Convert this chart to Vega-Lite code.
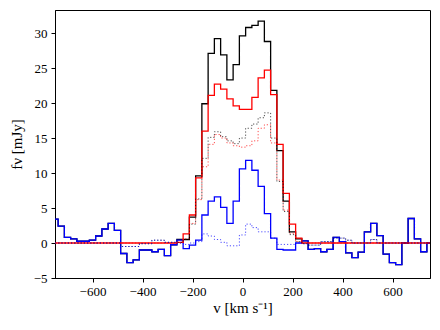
{
  "$schema": "https://vega.github.io/schema/vega-lite/v6.json",
  "width": 375,
  "height": 268,
  "autosize": {"type": "none"},
  "padding": {"left": 55, "top": 10, "right": 10, "bottom": 52},
  "background": "white",
  "config": {
    "view": {"stroke": "black", "strokeWidth": 1},
    "font": "Liberation Serif",
    "axis": {
      "grid": false,
      "domainColor": "black",
      "domainWidth": 1,
      "tickColor": "black",
      "tickSize": 4,
      "tickWidth": 1,
      "labelOverlap": false,
      "labelFont": "Liberation Serif",
      "labelFontSize": 13,
      "labelColor": "black",
      "titleFont": "Liberation Serif",
      "titleFontSize": 15,
      "titleFontWeight": "normal",
      "titleColor": "black"
    }
  },
  "data": {
    "values": [
      {"v": -750, "k": 3.4, "r": 0, "b": 3.4, "kd": 0, "rd": 0, "bd": 0},
      {"v": -725, "k": 2.4, "r": 0, "b": 2.4, "kd": 0, "rd": 0, "bd": 0},
      {"v": -700, "k": 0.8, "r": 0, "b": 0.8, "kd": 0, "rd": 0, "bd": 0},
      {"v": -675, "k": 0.6, "r": 0, "b": 0.6, "kd": 0, "rd": 0, "bd": 0},
      {"v": -650, "k": 0.25, "r": 0, "b": 0.25, "kd": 0, "rd": 0, "bd": 0},
      {"v": -625, "k": 0.25, "r": 0, "b": 0.25, "kd": 0, "rd": 0, "bd": 0},
      {"v": -600, "k": 0.4, "r": 0, "b": 0.4, "kd": 0, "rd": 0, "bd": 0},
      {"v": -575, "k": 1.0, "r": 0, "b": 1.0, "kd": 0, "rd": 0, "bd": 0},
      {"v": -550, "k": 2.0, "r": 0, "b": 2.0, "kd": 0, "rd": 0, "bd": 0},
      {"v": -525, "k": 2.8, "r": 0, "b": 2.8, "kd": 0, "rd": 0, "bd": 0},
      {"v": -500, "k": 1.8, "r": 0, "b": 1.8, "kd": 0, "rd": 0, "bd": 0},
      {"v": -475, "k": -1.5, "r": 0, "b": -1.5, "kd": -0.5, "rd": 0, "bd": -0.5},
      {"v": -450, "k": -2.8, "r": 0, "b": -2.8, "kd": -0.5, "rd": 0, "bd": -0.5},
      {"v": -425, "k": -2.4, "r": 0, "b": -2.4, "kd": -0.5, "rd": 0, "bd": -0.5},
      {"v": -400, "k": -1.0, "r": 0, "b": -1.0, "kd": -0.1, "rd": 0, "bd": -0.1},
      {"v": -375, "k": -1.0, "r": 0, "b": -1.0, "kd": -0.1, "rd": 0, "bd": -0.1},
      {"v": -350, "k": -1.25, "r": 0, "b": -1.25, "kd": 0.4, "rd": 0, "bd": 0.4},
      {"v": -325, "k": -0.9, "r": 0, "b": -0.9, "kd": 0.4, "rd": 0, "bd": 0.4},
      {"v": -300, "k": -1.8, "r": 0, "b": -1.8, "kd": 0.1, "rd": 0, "bd": 0.1},
      {"v": -275, "k": -0.25, "r": 0, "b": -0.25, "kd": 0.1, "rd": 0, "bd": 0.1},
      {"v": -250, "k": 0.5, "r": 0.1, "b": 0.4, "kd": 0.1, "rd": 0, "bd": 0},
      {"v": -225, "k": 0.5, "r": 1.3, "b": -0.8, "kd": 0.5, "rd": 0.6, "bd": -0.2},
      {"v": -200, "k": 3.7, "r": 4.0, "b": -0.3, "kd": 2.7, "rd": 2.8, "bd": 0},
      {"v": -175, "k": 9.6, "r": 9.3, "b": 0.4, "kd": 6.3, "rd": 6.2, "bd": 0.2},
      {"v": -150, "k": 19.9, "r": 16.0, "b": 4.0, "kd": 12.1, "rd": 10.9, "bd": 1.3},
      {"v": -125, "k": 27.1, "r": 21.1, "b": 6.0, "kd": 15.1, "rd": 14.1, "bd": 1.0},
      {"v": -100, "k": 29.2, "r": 22.7, "b": 6.6, "kd": 15.9, "rd": 15.5, "bd": 0.5},
      {"v": -75, "k": 26.9, "r": 22.0, "b": 5.1, "kd": 15.2, "rd": 15.0, "bd": 0.1},
      {"v": -50, "k": 23.3, "r": 20.6, "b": 2.8, "kd": 14.6, "rd": 14.3, "bd": -0.4},
      {"v": -25, "k": 25.5, "r": 19.6, "b": 6.0, "kd": 14.2, "rd": 13.9, "bd": -0.4},
      {"v": 0, "k": 29.6, "r": 19.1, "b": 10.6, "kd": 15.0, "rd": 13.7, "bd": 1.15},
      {"v": 25, "k": 30.8, "r": 19.1, "b": 11.8, "kd": 16.4, "rd": 13.9, "bd": 2.7},
      {"v": 50, "k": 31.1, "r": 20.8, "b": 10.4, "kd": 17.0, "rd": 14.6, "bd": 2.2},
      {"v": 75, "k": 31.7, "r": 23.6, "b": 8.1, "kd": 17.9, "rd": 16.4, "bd": 1.6},
      {"v": 100, "k": 28.8, "r": 24.7, "b": 4.2, "kd": 18.6, "rd": 16.9, "bd": 1.6},
      {"v": 125, "k": 21.8, "r": 21.2, "b": 0.7, "kd": 15.0, "rd": 14.3, "bd": 0.7},
      {"v": 150, "k": 13.2, "r": 14.1, "b": -0.9, "kd": 8.8, "rd": 9.0, "bd": -0.2},
      {"v": 175, "k": 6.0, "r": 7.1, "b": -1.0, "kd": 4.5, "rd": 4.7, "bd": -0.2},
      {"v": 200, "k": 1.6, "r": 2.7, "b": -1.0, "kd": 1.2, "rd": 1.4, "bd": -0.2},
      {"v": 225, "k": 0.6, "r": 0.7, "b": 0.0, "kd": 0.2, "rd": 0.2, "bd": 0},
      {"v": 250, "k": 0.3, "r": 0, "b": 0.3, "kd": -0.1, "rd": 0, "bd": -0.1},
      {"v": 275, "k": -0.9, "r": 0, "b": -0.9, "kd": -0.3, "rd": 0, "bd": -0.3},
      {"v": 300, "k": -0.8, "r": 0, "b": -0.8, "kd": -0.3, "rd": 0, "bd": -0.3},
      {"v": 325, "k": -1.25, "r": 0, "b": -1.25, "kd": 0.2, "rd": 0, "bd": 0.2},
      {"v": 350, "k": -0.9, "r": 0, "b": -0.9, "kd": 0.2, "rd": 0, "bd": 0.2},
      {"v": 375, "k": 0.8, "r": 0, "b": 0.8, "kd": 0.7, "rd": 0, "bd": 0.7},
      {"v": 400, "k": 0.2, "r": 0, "b": 0.2, "kd": 0.7, "rd": 0, "bd": 0.7},
      {"v": 425, "k": -1.4, "r": 0, "b": -1.4, "kd": 0.4, "rd": 0, "bd": 0.4},
      {"v": 450, "k": -2.1, "r": 0, "b": -2.1, "kd": 0, "rd": 0, "bd": 0},
      {"v": 475, "k": -1.3, "r": 0, "b": -1.3, "kd": 0, "rd": 0, "bd": 0},
      {"v": 500, "k": 1.6, "r": 0, "b": 1.6, "kd": 0, "rd": 0, "bd": 0},
      {"v": 525, "k": 2.8, "r": 0, "b": 2.8, "kd": 0.5, "rd": 0, "bd": 0.5},
      {"v": 550, "k": 1.05, "r": 0, "b": 1.05, "kd": 0, "rd": 0, "bd": 0},
      {"v": 575, "k": -1.6, "r": 0, "b": -1.6, "kd": 0, "rd": 0, "bd": 0},
      {"v": 600, "k": -2.8, "r": 0, "b": -2.8, "kd": 0, "rd": 0, "bd": 0},
      {"v": 625, "k": -3.1, "r": 0, "b": -3.1, "kd": 0, "rd": 0, "bd": 0},
      {"v": 650, "k": 0.0, "r": 0, "b": 0.0, "kd": 0, "rd": 0, "bd": 0},
      {"v": 675, "k": 3.5, "r": 0, "b": 3.5, "kd": 0, "rd": 0, "bd": 0},
      {"v": 700, "k": 0.6, "r": 0, "b": 0.6, "kd": 0, "rd": 0, "bd": 0},
      {"v": 725, "k": -1.25, "r": 0, "b": -1.25, "kd": 0, "rd": 0, "bd": 0},
      {"v": 750, "k": 0.0, "r": 0, "b": 0.0, "kd": 0, "rd": 0, "bd": 0}
    ]
  },
  "encoding": {
    "x": {
      "field": "v",
      "type": "quantitative",
      "scale": {"domain": [-750, 750], "nice": false, "zero": false},
      "axis": {
        "values": [-600, -400, -200, 0, 200, 400, 600],
        "labelPadding": 3,
        "titlePadding": 2,
        "title": "v [km s⁻¹]"
      }
    }
  },
  "layer": [
    {
      "mark": {"type": "line", "interpolate": "step", "color": "black", "strokeWidth": 1.3},
      "encoding": {
        "y": {
          "field": "k", "type": "quantitative",
          "scale": {"domain": [-5, 33.3], "nice": false, "zero": false},
          "axis": {"values": [-5, 0, 5, 10, 15, 20, 25, 30], "labelOverlap": false, "labelPadding": 4, "titlePadding": 9, "title": "fν [mJy]"}
        }
      }
    },
    {
      "mark": {"type": "line", "interpolate": "step", "color": "#0000ff", "strokeWidth": 1.3},
      "encoding": {
        "y": {"field": "b", "type": "quantitative", "axis": {"values": [-5, 0, 5, 10, 15, 20, 25, 30], "labelOverlap": false, "labelPadding": 4, "titlePadding": 9, "title": "fν [mJy]"}}
      }
    },
    {
      "mark": {"type": "line", "interpolate": "step", "color": "#ff0000", "strokeWidth": 1.3},
      "encoding": {
        "y": {"field": "r", "type": "quantitative", "axis": {"values": [-5, 0, 5, 10, 15, 20, 25, 30], "labelOverlap": false, "labelPadding": 4, "titlePadding": 9, "title": "fν [mJy]"}}
      }
    },
    {
      "mark": {"type": "line", "interpolate": "step", "color": "black", "strokeWidth": 1, "strokeDash": [1.2, 2], "opacity": 0.7},
      "encoding": {
        "y": {"field": "kd", "type": "quantitative", "axis": {"values": [-5, 0, 5, 10, 15, 20, 25, 30], "labelOverlap": false, "labelPadding": 4, "titlePadding": 9, "title": "fν [mJy]"}}
      }
    },
    {
      "mark": {"type": "line", "interpolate": "step", "color": "#ff0000", "strokeWidth": 1, "strokeDash": [1.2, 2], "opacity": 0.7},
      "encoding": {
        "y": {"field": "rd", "type": "quantitative", "axis": {"values": [-5, 0, 5, 10, 15, 20, 25, 30], "labelOverlap": false, "labelPadding": 4, "titlePadding": 9, "title": "fν [mJy]"}}
      }
    },
    {
      "mark": {"type": "line", "interpolate": "step", "color": "#0000ff", "strokeWidth": 1, "strokeDash": [1.2, 2], "opacity": 0.7},
      "encoding": {
        "y": {"field": "bd", "type": "quantitative", "axis": {"values": [-5, 0, 5, 10, 15, 20, 25, 30], "labelOverlap": false, "labelPadding": 4, "titlePadding": 9, "title": "fν [mJy]"}}
      }
    }
  ]
}
